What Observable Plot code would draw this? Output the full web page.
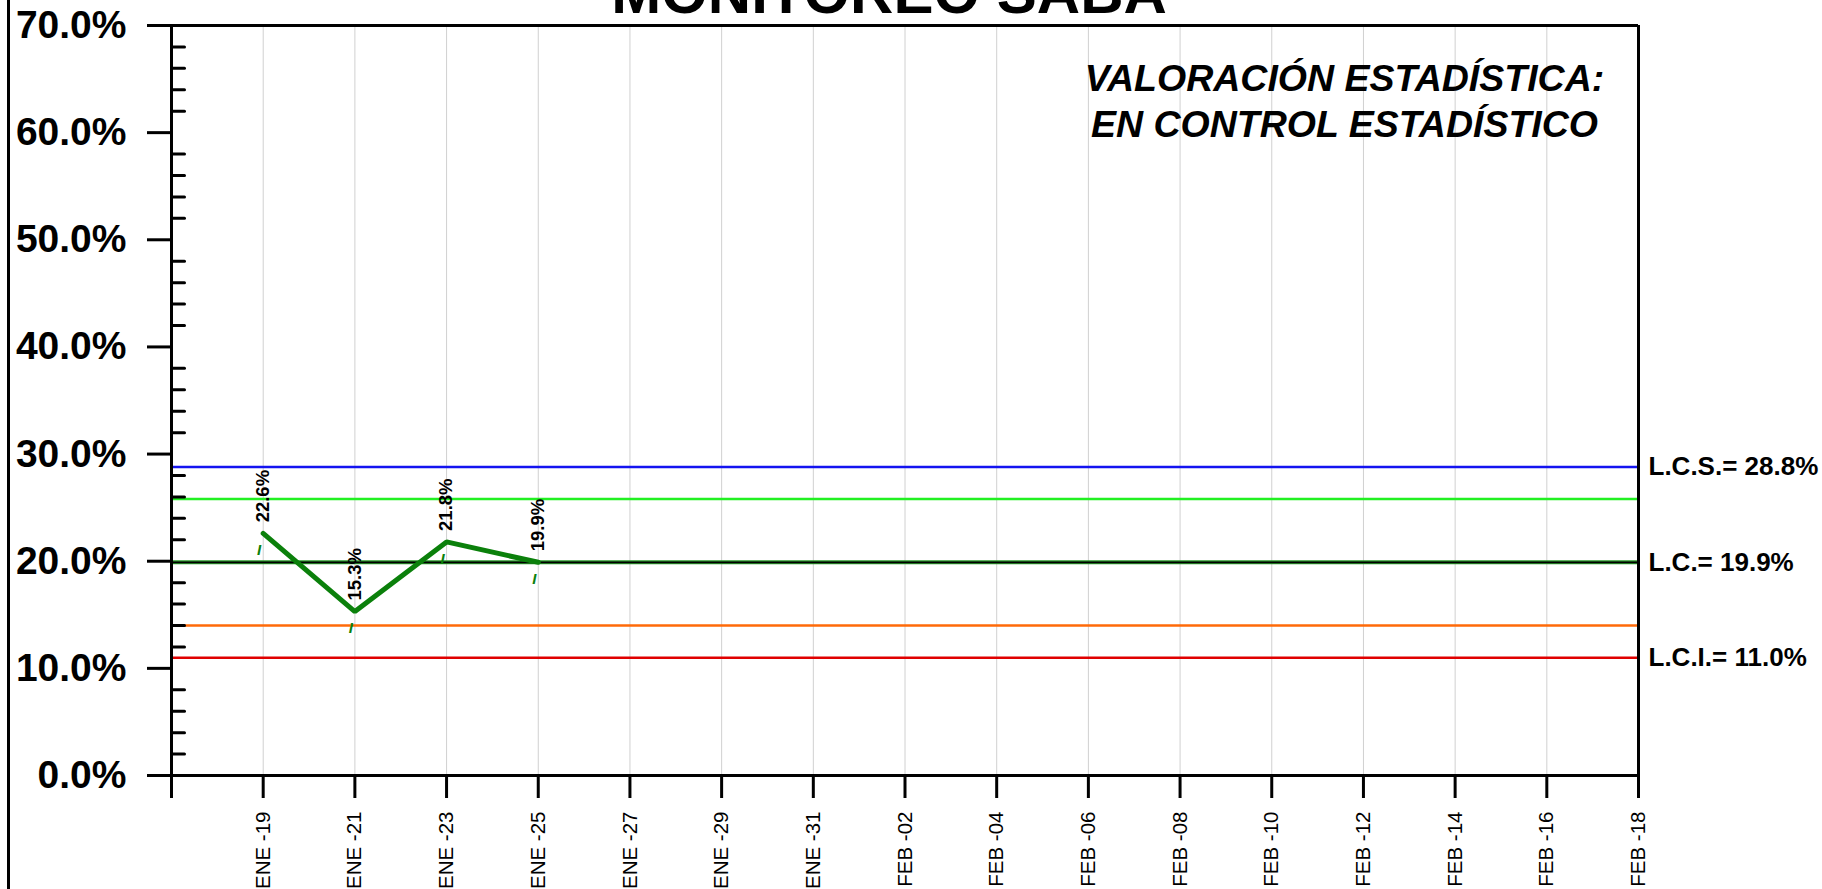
<!DOCTYPE html>
<html><head><meta charset="utf-8">
<script src="https://cdn.jsdelivr.net/npm/d3@7"></script>
<script src="https://cdn.jsdelivr.net/npm/@observablehq/plot@0.6"></script>
<style>
html,body{margin:0;padding:0;background:#fff;overflow:hidden}
#wrap{position:relative;width:1822px;height:889px}
#border{position:absolute;left:7px;top:0;width:3px;height:889px;background:#000}
#chart{position:absolute;left:0;top:0}
</style></head>
<body><div id="wrap"><div id="chart"></div><div id="border"></div></div>
<script>
// ---- data ----
const titulo = "MONITOREO SABA";
const valoracion = ["VALORACIÓN ESTADÍSTICA:", "EN CONTROL ESTADÍSTICO"];
const fechas = ["2022-01-19", "2022-01-21", "2022-01-23", "2022-01-25"];
const valores = [22.6, 15.3, 21.8, 19.9];
const marcaBajo = "I";
const limiteNombres = ["L.C.S.", "L.C.", "L.C.I."];
const limiteValores = [28.8, 19.9, 11.0];
const limiteColores = ["#1414f0", "#000000", "#e00000"];
const sigmaValores = [25.8, 14.0];
const sigmaColores = ["#22f022", "#ff6a08"];
const tickFechas = ["2022-01-17","2022-01-19","2022-01-21","2022-01-23","2022-01-25","2022-01-27",
  "2022-01-29","2022-01-31","2022-02-02","2022-02-04","2022-02-06","2022-02-08","2022-02-10",
  "2022-02-12","2022-02-14","2022-02-16","2022-02-18"];
const meses = ["ENE", "FEB"];
const yTicks = [0, 10, 20, 30, 40, 50, 60, 70];
const yMinor = [2,4,6,8,12,14,16,18,22,24,26,28,32,34,36,38,42,44,46,48,52,54,56,58,62,64,66,68];

// ---- build ----
const parse = d3.utcParse("%Y-%m-%d");
const puntos = fechas.map((f, i) => ({fecha: parse(f), valor: valores[i]}));
const ticksX = tickFechas.map(parse);
const x0 = ticksX[0], x1 = ticksX[ticksX.length - 1];
const fmtX = d => (+d === +x0) ? "" : meses[d.getUTCMonth()] + " -" + d3.utcFormat("%d")(d);
const limites = limiteNombres.map((n, i) => ({nombre: n, valor: limiteValores[i], color: limiteColores[i]}));
const sigmas = sigmaValores.map((v, i) => ({valor: v, color: sigmaColores[i]}));
const tickShape = {draw(ctx, l) { ctx.moveTo(0, 0); ctx.lineTo(0, -l); }};
const FONT = "'Liberation Sans', Arial, sans-serif";

const chart = Plot.plot({
  width: 1822, height: 889,
  marginLeft: 171, marginRight: 184, marginTop: 25, marginBottom: 114,
  style: {fontFamily: FONT, background: "white", color: "black"},
  x: {type: "utc", domain: [x0, x1]},
  y: {domain: [0, 70]},
  marks: [
    Plot.gridX(ticksX.slice(1, -1), {stroke: "#d0d0d0", strokeOpacity: 1, strokeWidth: 1}),
    Plot.ruleY(sigmas, {y: "valor", stroke: "color", strokeWidth: 2.5}),
    Plot.ruleY([limiteValores[1]], {stroke: "#2a9a2a", strokeWidth: 4}),
    Plot.ruleY(limites, {y: "valor", stroke: "color", strokeWidth: d => d.color === "#000000" ? 1.8 : 2.5}),
    Plot.line(puntos, {x: "fecha", y: "valor", stroke: "#0b800b", strokeWidth: 5, strokeLinejoin: "miter"}),
    Plot.text(puntos, {x: "fecha", y: "valor", text: d => d.valor.toFixed(1) + "%", rotate: -90,
      textAnchor: "start", dy: -11, fontSize: 18.5, fontWeight: "bold", fill: "black"}),
    Plot.text(puntos, {x: "fecha", y: "valor", text: () => marcaBajo, dx: -4, dy: 17,
      fontSize: 15, fontWeight: "bold", fontStyle: "italic", fill: "#0b800b"}),
    Plot.ruleY([0, 70], {stroke: "black", strokeWidth: 3}),
    Plot.ruleX([x0, x1], {stroke: "black", strokeWidth: 3}),
    Plot.axisY({ticks: yTicks, tickSize: 24, tickPadding: 21, tickFormat: d => d.toFixed(1) + "%",
      fontSize: 39, fontWeight: "bold", strokeWidth: 3, label: null}),
    Plot.vector(yMinor, {y: d => d, frameAnchor: "left", length: 13, rotate: 90, anchor: "start",
      shape: tickShape, stroke: "black", strokeWidth: 3}),
    Plot.axisX({ticks: ticksX, tickSize: 23, tickPadding: 13, tickRotate: -90, tickFormat: fmtX,
      fontSize: 20.5, strokeWidth: 3, label: null}),
    Plot.text([titulo], {frameAnchor: "top", lineAnchor: "bottom", dy: -13, dx: -16,
      fontSize: 60, fontWeight: "bold", fill: "black"}),
    Plot.text([valoracion.join("\n")], {frameAnchor: "top-right", lineAnchor: "top", textAnchor: "middle",
      dx: -294, dy: 33, lineHeight: 1.22, fontSize: 37.5, fontWeight: "bold", fontStyle: "italic", fill: "black"}),
    Plot.text(limites, {x: () => x1, y: "valor", text: d => d.nombre + "= " + d.valor.toFixed(1) + "%",
      textAnchor: "start", dx: 10, fontSize: 26, fontWeight: "bold", fill: "black"})
  ]
});
document.getElementById("chart").appendChild(chart);
</script>
</body></html>
